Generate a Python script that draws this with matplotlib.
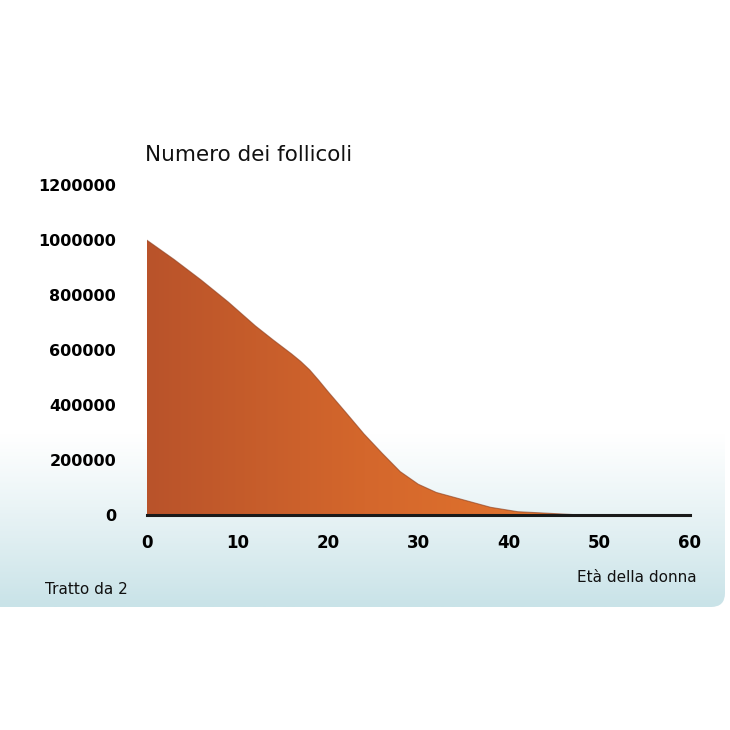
import numpy as np
import matplotlib.pyplot as plt
from matplotlib.patches import FancyBboxPatch
from matplotlib.colors import LinearSegmentedColormap

# dati
eta = [0, 3, 6, 9, 12, 14, 16, 17, 18, 19, 20, 22, 24, 26, 28, 30, 32, 35,
       38, 41, 44, 48]
follicoli = [1000000, 930000, 855000, 775000, 688000, 636000, 586000, 559000,
             528000, 490000, 450000, 373000, 295000, 225000, 158000, 112000,
             82000, 55000, 28000, 12000, 7000, 0]
xticks = [0, 10, 20, 30, 40, 50, 60]
yticks = [0, 200000, 400000, 600000, 800000, 1000000, 1200000]

plt.rcParams['font.family'] = ['DejaVu Sans']

fig = plt.figure(figsize=(7.3, 7.3), dpi=100)
fig.patch.set_color('white')

# sfondo del pannello con sfumatura
bg = fig.add_axes([0, 0, 1, 1], zorder=0)
bg.set_xlim(0, 730)
bg.set_ylim(730, 0)
bg.axis('off')
grad = np.linspace(0, 1, 256).reshape(-1, 1) ** 1.6
bg_cmap = LinearSegmentedColormap.from_list('bg', ['#ffffff', '#ffffff', '#c9e3e8'])
im = bg.imshow(grad, extent=[-5, 728, 607, 118], cmap=bg_cmap, aspect='auto')
box = FancyBboxPatch((-20, 118), 745, 489, boxstyle='round,pad=0,rounding_size=14',
                     transform=bg.transData, facecolor='none', edgecolor='none')
bg.add_patch(box)
im.set_clip_path(box)

ax = fig.add_axes([0.201, 0.2945, 0.744, 0.452], zorder=1)
ax.patch.set_alpha(0)

# area riempita con sfumatura orizzontale
area = ax.fill_between(eta, follicoli, 0, facecolor='none', edgecolor='none')
fill_cmap = LinearSegmentedColormap.from_list('fill', ['#b9532a', '#d4672c', '#e4762e'])
hgrad = np.linspace(0, 1, 256).reshape(1, -1)
im2 = ax.imshow(hgrad, extent=[0, 48, 0, 1000000], cmap=fill_cmap, aspect='auto', zorder=2)
im2.set_clip_path(area.get_paths()[0], transform=ax.transData)
ax.plot(eta, follicoli, color='#8a3c1c', lw=0.8, alpha=0.6, zorder=3)

ax.set_xlim(0, 60)
ax.set_ylim(0, 1200000)
ax.set_xticks(xticks)
ax.set_yticks(yticks)
ax.set_xticklabels([str(v) for v in xticks], fontsize=12, fontweight='bold')
ax.set_yticklabels([str(v) for v in yticks], fontsize=11.5, fontweight='bold')
ax.tick_params(length=0, pad=14)
ax.tick_params(axis='y', pad=22)
for s in ['top', 'right', 'left']:
    ax.spines[s].set_visible(False)
ax.spines['bottom'].set_color('#1a1a1a')
ax.spines['bottom'].set_linewidth(2.2)
ax.spines['bottom'].set_zorder(4)

fig.text(145 / 730, 1 - 155 / 730, 'Numero dei follicoli', fontsize=15.5,
         va='center', ha='left', color='#111111')
fig.text(697 / 730, 1 - 578 / 730, 'Età della donna', fontsize=11,
         va='center', ha='right', color='#111111')
fig.text(45 / 730, 1 - 590 / 730, 'Tratto da 2', fontsize=11,
         va='center', ha='left', color='#111111')

plt.savefig('out.png', dpi=100)
